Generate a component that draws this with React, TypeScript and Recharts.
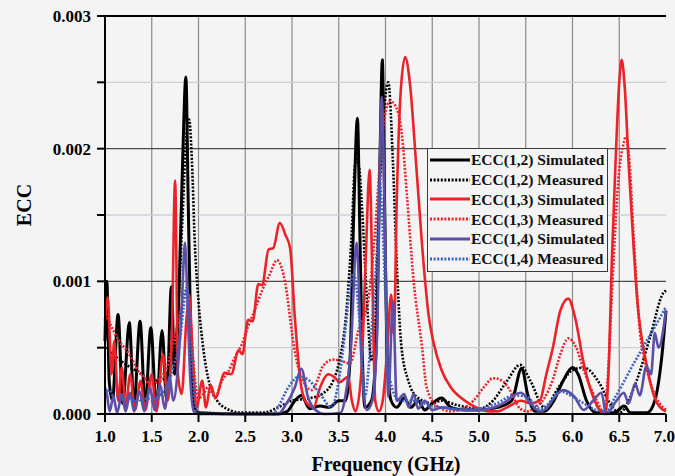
import { LineChart, Line, XAxis, YAxis, ReferenceLine, Legend } from 'recharts';

// frequency in GHz, ECC in units of 1e-3
const frequencyTicks = [1, 1.5, 2, 2.5, 3, 3.5, 4, 4.5, 5, 5.5, 6, 6.5, 7];
const eccTicks = [0, 0.5, 1, 1.5, 2, 2.5, 3];
const eccMajor = [1, 2];
const eccMinor = [0.5, 1.5, 2.5];

const sim12: [number, number][] = [
  [1.0, 0.55], [1.02, 1.0], [1.045, 0.25], [1.08, 0.1], [1.14, 0.75], [1.19, 0.08], [1.26, 0.69],
  [1.31, 0.06], [1.375, 0.7], [1.43, 0.05], [1.49, 0.65], [1.55, 0.04], [1.61, 0.63], [1.66, 0.1],
  [1.71, 0.96], [1.745, 0.3], [1.79, 0.9], [1.83, 1.9], [1.865, 2.54], [1.89, 1.6], [1.92, 0.5],
  [1.95, 0.08], [2.0, 0.01], [2.5, 0.0], [2.85, 0.0], [2.95, 0.02], [3.03, 0.1], [3.1, 0.14],
  [3.19, 0.04], [3.3, 0.06], [3.4, 0.05], [3.5, 0.1], [3.57, 0.1], [3.62, 0.4], [3.66, 1.5],
  [3.7, 2.23], [3.725, 1.4], [3.75, 0.5], [3.78, 0.05], [3.85, 0.1], [3.9, 0.5], [3.94, 1.9],
  [3.966, 2.67], [3.99, 1.6], [4.02, 0.4], [4.06, 0.1], [4.12, 0.05], [4.2, 0.12], [4.27, 0.05],
  [4.35, 0.1], [4.42, 0.03], [4.5, 0.08], [4.6, 0.12], [4.7, 0.05], [4.85, 0.03], [5.0, 0.03],
  [5.2, 0.05], [5.35, 0.1], [5.457, 0.344], [5.52, 0.15], [5.6, 0.02], [5.7, 0.02], [5.8, 0.1],
  [5.9, 0.25], [6.0, 0.35], [6.06, 0.3], [6.15, 0.1], [6.25, 0.01], [6.45, 0.01], [6.55, 0.06],
  [6.62, 0.01], [6.8, 0.01], [6.88, 0.1], [6.95, 0.4], [7.0, 0.78],
];

const meas12: [number, number][] = [
  [1.0, 0.5], [1.05, 0.47], [1.21, 0.38], [1.37, 0.31], [1.48, 0.26], [1.59, 0.25], [1.7, 0.36],
  [1.77, 0.65], [1.83, 1.5], [1.87, 2.1], [1.9, 2.22], [1.93, 1.9], [1.96, 1.3], [2.0, 0.85],
  [2.05, 0.5], [2.12, 0.22], [2.2, 0.1], [2.3, 0.04], [2.45, 0.01], [2.7, 0.01], [2.85, 0.05],
  [3.0, 0.1], [3.2, 0.12], [3.32, 0.15], [3.44, 0.25], [3.5, 0.38], [3.58, 0.76], [3.64, 1.39],
  [3.67, 1.85], [3.69, 1.92], [3.72, 1.85], [3.745, 1.6], [3.8, 0.88], [3.85, 0.4], [3.88, 0.5],
  [3.92, 1.39], [3.97, 2.14], [4.03, 2.5], [4.08, 1.89], [4.12, 1.14], [4.17, 0.51], [4.24, 0.26],
  [4.35, 0.12], [4.5, 0.08], [4.6, 0.1], [4.75, 0.07], [5.0, 0.04], [5.15, 0.1], [5.3, 0.25],
  [5.44, 0.37], [5.55, 0.25], [5.7, 0.05], [5.85, 0.2], [6.0, 0.33], [6.12, 0.35], [6.29, 0.23],
  [6.4, 0.08], [6.5, 0.01], [6.69, 0.26], [6.83, 0.58], [6.97, 0.91], [7.0, 0.93],
];

const sim13: [number, number][] = [
  [1.0, 0.7], [1.03, 0.88], [1.07, 0.3], [1.1, 0.55], [1.14, 0.1], [1.18, 0.35], [1.22, 0.05],
  [1.27, 0.3], [1.32, 0.03], [1.38, 0.25], [1.43, 0.03], [1.5, 0.3], [1.55, 0.02], [1.62, 0.45],
  [1.67, 0.1], [1.715, 0.6], [1.75, 1.76], [1.78, 0.3], [1.82, 0.15], [1.87, 0.7], [1.9, 0.9],
  [1.94, 0.4], [1.98, 0.05], [2.04, 0.25], [2.08, 0.05], [2.13, 0.22], [2.18, 0.12], [2.28, 0.31],
  [2.35, 0.3], [2.43, 0.48], [2.47, 0.45], [2.53, 0.71], [2.58, 0.7], [2.64, 0.98], [2.68, 0.97],
  [2.75, 1.24], [2.8, 1.25], [2.87, 1.44], [2.93, 1.35], [2.98, 1.25], [3.03, 0.73], [3.1, 0.2],
  [3.16, 0.08], [3.23, 0.05], [3.3, 0.2], [3.39, 0.3], [3.45, 0.28], [3.51, 0.24], [3.6, 0.28],
  [3.64, 0.1], [3.68, 0.02], [3.74, 0.3], [3.79, 1.2], [3.83, 1.84], [3.86, 1.0], [3.89, 0.1],
  [3.93, 0.02], [3.97, 0.1], [4.02, 0.5], [4.06, 0.9], [4.09, 0.6], [4.12, 1.6], [4.16, 2.4],
  [4.21, 2.69], [4.26, 2.5], [4.33, 1.86], [4.41, 1.11], [4.46, 0.75], [4.51, 0.55], [4.6, 0.33],
  [4.7, 0.2], [4.85, 0.1], [5.0, 0.04], [5.1, 0.02], [5.2, 0.02], [5.3, 0.05], [5.45, 0.1],
  [5.55, 0.08], [5.65, 0.1], [5.72, 0.3], [5.79, 0.5], [5.87, 0.78], [5.955, 0.87], [6.03, 0.72],
  [6.12, 0.38], [6.22, 0.13], [6.3, 0.02], [6.35, 0.0], [6.39, 0.4], [6.42, 1.14], [6.46, 1.89],
  [6.5, 2.5], [6.526, 2.67], [6.56, 2.45], [6.6, 1.89], [6.65, 1.3], [6.69, 0.88], [6.79, 0.38],
  [6.88, 0.12], [6.97, 0.03], [7.0, 0.02],
];

const meas13: [number, number][] = [
  [1.0, 0.78], [1.03, 0.72], [1.09, 0.63], [1.15, 0.55], [1.23, 0.48], [1.3, 0.4], [1.37, 0.31],
  [1.42, 0.28], [1.48, 0.22], [1.55, 0.24], [1.6, 0.28], [1.65, 0.33], [1.7, 0.45], [1.75, 0.6],
  [1.8, 0.75], [1.87, 0.93], [1.91, 0.75], [1.95, 0.35], [2.0, 0.12], [2.05, 0.15], [2.1, 0.2],
  [2.18, 0.13], [2.25, 0.25], [2.32, 0.32], [2.39, 0.43], [2.46, 0.52], [2.53, 0.66], [2.6, 0.78],
  [2.68, 0.93], [2.76, 1.05], [2.84, 1.16], [2.89, 1.1], [2.93, 0.98], [3.0, 0.61], [3.05, 0.4],
  [3.1, 0.28], [3.21, 0.18], [3.27, 0.25], [3.33, 0.36], [3.44, 0.41], [3.53, 0.4], [3.62, 0.38],
  [3.71, 0.63], [3.82, 0.88], [3.89, 1.39], [3.94, 1.89], [3.99, 2.24], [4.05, 2.36], [4.1, 2.33],
  [4.17, 2.14], [4.23, 1.64], [4.3, 1.01], [4.39, 0.51], [4.44, 0.2], [4.55, 0.06], [4.7, 0.02],
  [4.85, 0.05], [4.94, 0.1], [5.05, 0.2], [5.15, 0.27], [5.25, 0.25], [5.33, 0.18], [5.44, 0.04],
  [5.52, 0.02], [5.6, 0.05], [5.7, 0.12], [5.79, 0.26], [5.87, 0.45], [5.955, 0.57], [6.04, 0.5],
  [6.12, 0.33], [6.26, 0.1], [6.33, 0.02], [6.38, 0.3], [6.42, 0.88], [6.49, 1.76], [6.55, 2.05],
  [6.57, 2.09], [6.61, 1.9], [6.65, 1.39], [6.72, 0.63], [6.79, 0.35], [6.86, 0.18], [7.0, 0.03],
];

const sim14: [number, number][] = [
  [1.0, 0.2], [1.02, 0.15], [1.05, 0.02], [1.09, 0.13], [1.13, 0.01], [1.18, 0.15], [1.22, 0.02],
  [1.27, 0.16], [1.31, 0.02], [1.37, 0.17], [1.42, 0.02], [1.48, 0.2], [1.53, 0.03], [1.59, 0.22],
  [1.64, 0.04], [1.69, 0.28], [1.73, 0.1], [1.78, 0.35], [1.82, 0.8], [1.855, 1.29], [1.88, 0.9],
  [1.91, 0.3], [1.95, 0.02], [2.0, 0.0], [2.85, 0.0], [2.925, 0.06], [3.03, 0.2], [3.1, 0.34],
  [3.17, 0.13], [3.25, 0.03], [3.35, 0.0], [3.52, 0.01], [3.57, 0.13], [3.63, 0.5], [3.69, 1.29],
  [3.745, 0.38], [3.8, 0.03], [3.86, 0.1], [3.91, 0.6], [3.96, 2.39], [3.995, 1.39], [4.03, 0.13],
  [4.08, 0.85], [4.12, 0.1], [4.2, 0.15], [4.25, 0.05], [4.3, 0.15], [4.35, 0.04], [4.42, 0.1],
  [4.5, 0.03], [4.6, 0.05], [4.8, 0.03], [5.0, 0.03], [5.2, 0.06], [5.3, 0.1], [5.37, 0.14],
  [5.45, 0.16], [5.55, 0.08], [5.65, 0.02], [5.72, 0.04], [5.8, 0.12], [5.9, 0.18], [6.02, 0.13],
  [6.12, 0.03], [6.22, 0.1], [6.31, 0.16], [6.36, 0.0], [6.47, 0.1], [6.55, 0.16], [6.6, 0.08],
  [6.67, 0.23], [6.72, 0.14], [6.79, 0.36], [6.84, 0.3], [6.88, 0.61], [6.92, 0.5], [7.0, 0.78],
];

const meas14: [number, number][] = [
  [1.0, 0.15], [1.05, 0.18], [1.1, 0.12], [1.15, 0.14], [1.2, 0.1], [1.25, 0.13], [1.3, 0.09],
  [1.35, 0.12], [1.4, 0.09], [1.45, 0.12], [1.5, 0.1], [1.55, 0.12], [1.6, 0.15], [1.65, 0.2],
  [1.7, 0.28], [1.75, 0.4], [1.8, 0.55], [1.84, 0.8], [1.87, 0.95], [1.9, 0.8], [1.93, 0.4],
  [1.97, 0.05], [2.0, 0.0], [2.8, 0.0], [2.85, 0.05], [2.96, 0.2], [3.07, 0.28], [3.17, 0.26],
  [3.32, 0.13], [3.42, 0.05], [3.5, 0.25], [3.57, 0.63], [3.62, 0.95], [3.66, 1.06], [3.69, 0.95],
  [3.73, 0.63], [3.78, 0.13], [3.82, 0.35], [3.85, 0.63], [3.91, 1.26], [3.94, 1.74], [3.97, 1.4],
  [4.0, 0.88], [4.05, 0.25], [4.15, 0.1], [4.3, 0.1], [4.5, 0.06], [4.8, 0.04], [5.0, 0.04],
  [5.19, 0.08], [5.37, 0.14], [5.51, 0.13], [5.65, 0.04], [5.75, 0.08], [5.87, 0.17], [6.0, 0.13],
  [6.12, 0.08], [6.25, 0.03], [6.36, 0.02], [6.45, 0.12], [6.54, 0.23], [6.63, 0.35], [6.72, 0.46],
  [6.81, 0.57], [6.9, 0.68], [7.0, 0.81],
];

const FONT = '"Liberation Serif", "Times New Roman", serif';
const DOT = '2 1.6';

const series = [
  { name: 'ECC(1,2) Simulated', points: sim12, color: '#000000', dash: undefined as string | undefined, width: 3 },
  { name: 'ECC(1,2) Measured', points: meas12, color: '#000000', dash: DOT, width: 2.6 },
  { name: 'ECC(1,3) Simulated', points: sim13, color: '#ec2229', dash: undefined, width: 2.6 },
  { name: 'ECC(1,3) Measured', points: meas13, color: '#ec2229', dash: DOT, width: 2.6 },
  { name: 'ECC(1,4) Simulated', points: sim14, color: '#5b4fa6', dash: undefined, width: 2.6 },
  { name: 'ECC(1,4) Measured', points: meas14, color: '#3b62bf', dash: DOT, width: 2.6 },
];

const toRows = (pts: [number, number][]) => pts.map(([f, ecc]) => ({ f, ecc }));

const tickStyle = { fontSize: 17, fontWeight: 'bold', fill: '#000', fontFamily: FONT };

const LegendBox = () => (
  <div
    style={{
      border: '1.5px solid #3a3a3a',
      background: '#f4f4f4',
      padding: '1px 3px 2px 2px',
      fontFamily: FONT,
    }}
  >
    {series.map((s) => (
      <div key={s.name} style={{ display: 'flex', alignItems: 'center', height: 19.8 }}>
        <svg width={40} height={6} style={{ display: 'block' }}>
          <line x1={0} x2={40} y1={3} y2={3} stroke={s.color} strokeWidth={3} strokeDasharray={s.dash} />
        </svg>
        <span
          style={{
            fontWeight: 'bold',
            fontSize: 15.5,
            marginLeft: 1,
            color: '#111',
            whiteSpace: 'nowrap',
            lineHeight: 1,
          }}
        >
          {s.name}
        </span>
      </div>
    ))}
  </div>
);

export default function App() {
  return (
    <div style={{ position: 'absolute', left: 0, top: 0, width: 675, height: 476, background: '#f4f4f4' }}>
      <LineChart width={675} height={476} margin={{ top: 16, right: 9, bottom: 0, left: 0 }}>
        <XAxis
          dataKey="f"
          type="number"
          domain={[1, 7]}
          ticks={frequencyTicks}
          tickFormatter={(v: number) => v.toFixed(1)}
          height={62}
          tick={tickStyle}
          tickSize={8}
          tickMargin={8}
          stroke="#000"
          strokeWidth={2}
          label={{
            content: () => (
              <text x={386} y={471} textAnchor="middle" fontFamily={FONT} fontWeight="bold" fontSize={20} fill="#000">
                Frequency (GHz)
              </text>
            ),
          }}
        />
        <YAxis
          type="number"
          domain={[0, 3]}
          ticks={eccTicks}
          tickFormatter={(v: number) => (Number.isInteger(v) ? (v / 1000).toFixed(3) : '')}
          width={105}
          tick={tickStyle}
          tickSize={8}
          tickMargin={6}
          stroke="#000"
          strokeWidth={2}
          label={{
            content: () => (
              <text
                x={31}
                y={205}
                transform="rotate(-90, 31, 205)"
                textAnchor="middle"
                fontFamily={FONT}
                fontWeight="bold"
                fontSize={20}
                fill="#000"
              >
                ECC
              </text>
            ),
          }}
        />
        {frequencyTicks.slice(1, -1).map((f) => (
          <ReferenceLine key={`v${f}`} x={f} stroke="#8a8a8a" strokeWidth={1.2} />
        ))}
        {eccMinor.map((v) => (
          <ReferenceLine key={`m${v}`} y={v} stroke="#cfcfd8" strokeWidth={1.3} />
        ))}
        {eccMajor.map((v) => (
          <ReferenceLine key={`M${v}`} y={v} stroke="#4a4a4a" strokeWidth={1.2} />
        ))}
        <ReferenceLine y={3} stroke="#000" strokeWidth={2} />
        {series.map((s) => (
          <Line
            key={s.name}
            name={s.name}
            data={toRows(s.points)}
            dataKey="ecc"
            type="monotone"
            stroke={s.color}
            strokeWidth={s.width}
            strokeDasharray={s.dash}
            dot={false}
            activeDot={false}
            isAnimationActive={false}
          />
        ))}
        <Legend
          layout="vertical"
          align="center"
          verticalAlign="middle"
          content={() => <LegendBox />}
          wrapperStyle={{ left: 427, top: 148, width: 'auto', height: 'auto' }}
        />
      </LineChart>
    </div>
  );
}
